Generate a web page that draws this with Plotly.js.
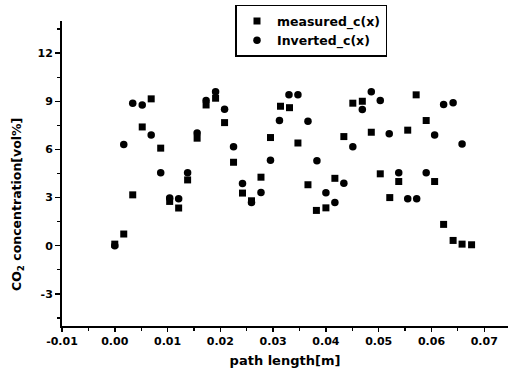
<!DOCTYPE html>
<html>
<head>
<meta charset="utf-8">
<script src="https://cdn.plot.ly/plotly-3.0.1.min.js"></script>
<style>html,body{margin:0;padding:0;background:#fff;}#chart{width:508px;height:374px;}</style>
</head>
<body>
<div id="chart"></div>
<script>
// measured_c(x)
const measuredX = [0.0000,0.0017,0.0034,0.0052,0.0069,0.0087,0.0104,0.0121,0.0138,0.0156,
  0.0173,0.0191,0.0208,0.0225,0.0242,0.0259,0.0277,0.0295,0.0314,0.0331,
  0.0347,0.0366,0.0382,0.0400,0.0417,0.0434,0.0451,0.0469,0.0486,0.0503,
  0.0521,0.0538,0.0555,0.0571,0.0590,0.0606,0.0623,0.0641,0.0658,0.0676];
const measuredY = [0.1,0.73,3.17,7.4,9.15,6.08,2.76,2.35,4.1,6.7,
  8.77,9.19,7.67,5.2,3.28,2.8,4.27,6.74,8.69,8.6,
  6.4,3.8,2.2,2.36,4.2,6.8,8.88,9.0,7.07,4.48,
  3.0,4.0,7.2,9.4,7.8,4.0,1.33,0.33,0.1,0.06];
// inverted_c(x)
const invertedX = [0.0000,0.0017,0.0034,0.0052,0.0069,0.0087,0.0104,0.0121,0.0138,0.0156,
  0.0173,0.0191,0.0208,0.0225,0.0242,0.0259,0.0277,0.0295,0.0312,0.0330,
  0.0347,0.0366,0.0383,0.0400,0.0417,0.0434,0.0451,0.0469,0.0486,0.0503,
  0.0520,0.0538,0.0555,0.0572,0.0590,0.0606,0.0623,0.0641,0.0658];
const invertedY = [0.0,6.3,8.88,8.77,6.9,4.54,2.97,2.92,4.54,7.03,
  9.04,9.6,8.5,6.16,3.88,2.7,3.32,5.33,7.8,9.4,
  9.4,7.76,5.3,3.3,2.7,3.9,6.16,8.48,9.6,9.04,
  6.97,4.54,2.92,2.92,4.54,6.9,8.8,8.9,6.33];
const seriesNames = ["measured_c(x)", "Inverted_c(x)"];
const xTickVals = [-0.01,0.00,0.01,0.02,0.03,0.04,0.05,0.06,0.07];
const xTickText = ["-0.01","0.00","0.01","0.02","0.03","0.04","0.05","0.06","0.07"];
const yTickVals = [-3,0,3,6,9,12];
const yTickText = ["-3","0","3","6","9","12"];
const xTitle = "path length[m]";
const yTitle = "CO<sub>2</sub> concentration[vol%]";

const FONT = "'DejaVu Sans', Verdana, sans-serif";
const traces = [
  {x: measuredX, y: measuredY, name: seriesNames[0], type: "scatter", mode: "markers",
   marker: {symbol: "square", size: 7, color: "#000"}, cliponaxis: false},
  {x: invertedX, y: invertedY, name: seriesNames[1], type: "scatter", mode: "markers",
   marker: {symbol: "circle", size: 7.5, color: "#000"}, cliponaxis: false}
];
const layout = {
  width: 508, height: 374,
  margin: {l: 62, r: 0, t: 21, b: 48, pad: 0},
  paper_bgcolor: "#fff", plot_bgcolor: "#fff",
  font: {family: FONT, color: "#000"},
  showlegend: true,
  legend: {x: 0.389, xanchor: "left", y: 1.053, yanchor: "top",
    bgcolor: "#fff", bordercolor: "#000", borderwidth: 1.5,
    font: {family: FONT, size: 12.5, weight: "bold", color: "#000"},
    tracegroupgap: 0, itemsizing: "trace"},
  xaxis: {range: [-0.01, 0.0745], showgrid: false, zeroline: false,
    showline: true, linecolor: "#000", linewidth: 2,
    tickmode: "array", tickvals: xTickVals, ticktext: xTickText,
    ticks: "outside", ticklen: 4, tickwidth: 1.5, tickcolor: "#000",
    minor: {dtick: 0.005, tick0: 0, ticks: "outside", ticklen: 3, tickwidth: 1.2, tickcolor: "#000", showgrid: false},
    tickfont: {family: FONT, size: 11, weight: "bold", color: "#000"},
    title: {text: xTitle, standoff: 9,
      font: {family: FONT, size: 13, weight: "bold", color: "#000"}}},
  yaxis: {range: [-5, 14], showgrid: false, zeroline: false,
    showline: true, linecolor: "#000", linewidth: 2,
    tickmode: "array", tickvals: yTickVals, ticktext: yTickText,
    ticks: "outside", ticklen: 5, tickwidth: 1.5, tickcolor: "#000",
    minor: {dtick: 1.5, tick0: 0, ticks: "outside", ticklen: 3, tickwidth: 1.2, tickcolor: "#000", showgrid: false},
    tickfont: {family: FONT, size: 11, weight: "bold", color: "#000"},
    title: {text: ""}},
  annotations: [{text: yTitle, xref: "paper", yref: "paper",
    x: -0.101, y: 0.40, xanchor: "center", yanchor: "middle", textangle: -90,
    showarrow: false, font: {family: FONT, size: 12.5, weight: "bold", color: "#000"}}]
};
Plotly.newPlot("chart", traces, layout, {displayModeBar: false, staticPlot: true});
</script>
</body>
</html>
